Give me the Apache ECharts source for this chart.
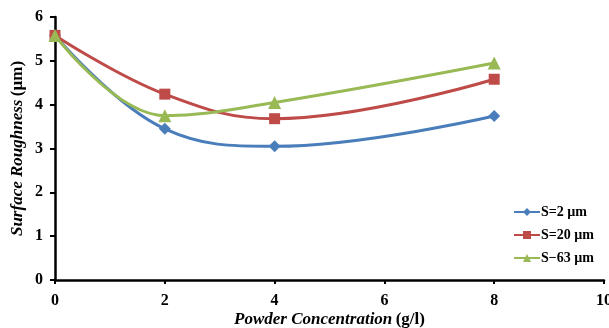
<!DOCTYPE html>
<html>
<head>
<meta charset="utf-8">
<script src="https://cdn.jsdelivr.net/npm/echarts@6/dist/echarts.min.js"></script>
<style>
html, body { margin: 0; padding: 0; background: #fff; }
#c { width: 609px; height: 328px; }
</style>
</head>
<body>
<div id="c"></div>
<script>
// powder concentration (g/l)
var conc = [0, 2, 4, 8];
var s2 = [5.58, 3.45, 3.05, 3.74];
var s20 = [5.58, 4.24, 3.68, 4.58];
var s63 = [5.58, 3.75, 4.05, 4.95];
var names = ['S=2 µm', 'S=20 µm', 'S−63 µm'];

function pts(vals) {
	return conc.map(function (x, i) { return [x, vals[i]]; });
}

var font = 'Liberation Serif';
var chart = echarts.init(document.getElementById('c'));

// italic part + upright unit part
var nameRich = {
	i: { fontFamily: font, fontWeight: 'bold', fontStyle: 'italic', fontSize: 17, lineHeight: 18, color: '#000' },
	n: { fontFamily: font, fontWeight: 'bold', fontSize: 17, lineHeight: 18, color: '#000' }
};

var option = {
	backgroundColor: '#fff',
	animation: false,
	grid: {
		left: 55,
		right: 5,
		top: 17,
		bottom: 48,
		containLabel: false,
		outerBoundsMode: 'none'
	},
	legend: {
		orient: 'vertical',
		right: 10,
		top: 200,
		itemGap: 9,
		itemWidth: 26,
		itemHeight: 10,
		textStyle: { fontFamily: font, fontWeight: 'bold', fontSize: 14, color: '#000', padding: [0, 0, 0, -4] },
		data: names
	},
	xAxis: {
		type: 'value',
		min: 0,
		max: 10,
		interval: 2,
		name: '{i|Powder Concentration} {n|(g/l)}',
		nameLocation: 'middle',
		nameGap: 31,
		nameMoveOverlap: false,
		nameTextStyle: { rich: nameRich, lineHeight: 18 },
		axisLine: { lineStyle: { color: '#000', width: 2.5 } },
		axisTick: { show: true, length: 4, lineStyle: { color: '#000', width: 2 } },
		axisLabel: { fontFamily: font, fontWeight: 'bold', fontSize: 16, color: '#000', margin: 13 },
		splitLine: { show: false }
	},
	yAxis: {
		type: 'value',
		min: 0,
		max: 6,
		interval: 1,
		name: '{i|Surface Roughness} {n|(µm)}',
		nameLocation: 'middle',
		nameGap: 28,
		nameMoveOverlap: false,
		nameTextStyle: { rich: nameRich, lineHeight: 18 },
		axisLine: { show: true, lineStyle: { color: '#000', width: 2.5 } },
		axisTick: { show: true, length: 5, lineStyle: { color: '#000', width: 2 } },
		axisLabel: { fontFamily: font, fontWeight: 'bold', fontSize: 16, color: '#000', margin: 12 },
		splitLine: { show: false }
	},
	series: [{
		name: names[0],
		type: 'line',
		data: pts(s2),
		smooth: 0.4,
		symbol: 'diamond',
		symbolSize: 12,
		itemStyle: { color: '#4a7ebb' },
		lineStyle: { width: 3, color: '#4a7ebb' }
	}, {
		name: names[1],
		type: 'line',
		data: pts(s20),
		smooth: 0.4,
		symbol: 'rect',
		symbolSize: 11,
		itemStyle: { color: '#be4b48' },
		lineStyle: { width: 3, color: '#be4b48' }
	}, {
		name: names[2],
		type: 'line',
		data: pts(s63),
		smooth: 0.4,
		symbol: 'triangle',
		symbolSize: 13,
		itemStyle: { color: '#98b954' },
		lineStyle: { width: 3, color: '#98b954' }
	}]
};

chart.setOption(option);
</script>
</body>
</html>
